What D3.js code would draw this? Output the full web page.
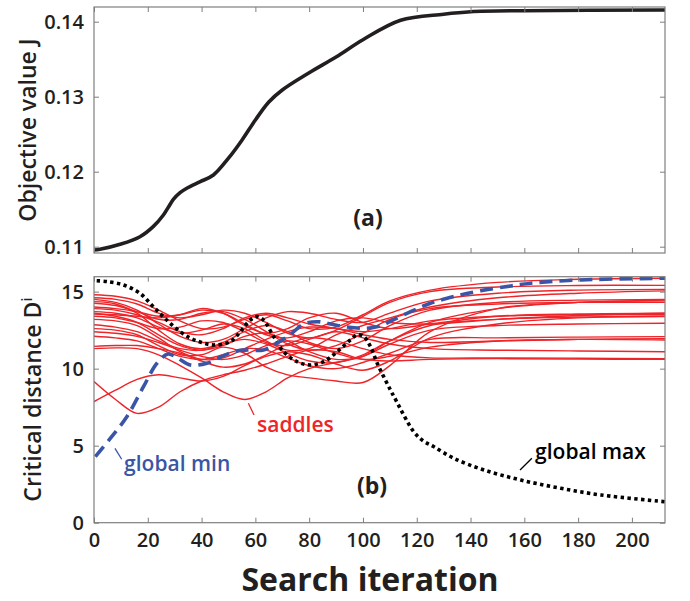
<!DOCTYPE html>
<html>
<head>
<meta charset="utf-8">
<script src="https://cdn.jsdelivr.net/npm/d3@7"></script>
<style>
  body { margin: 0; background: #fff; }
  text { font-family: "Open Sans", sans-serif; fill: #231f20; }
</style>
</head>
<body>
<svg id="chart"></svg>
<script>
// ---- data ----
// panel (a): objective value per iteration
var iterJ = [0, 2.2, 9.7, 17.1, 22, 25.8, 27.7, 29.5, 32, 34.5, 39.5, 44.4, 50, 55, 60, 65, 70, 80, 90, 100, 114, 130, 140, 160, 212.3];
var valJ  = [0.10956, 0.10965, 0.11032, 0.11133, 0.11267, 0.11423, 0.1153, 0.1163, 0.1172, 0.11779, 0.11867, 0.11956, 0.1218, 0.1242, 0.1269, 0.1293, 0.1309, 0.1332, 0.1353, 0.1376, 0.1402, 0.1410, 0.14133, 0.14147, 0.14156];

// panel (b): global max (dotted)
var iterMax = [1, 5, 11, 17, 22, 27, 32, 36, 40, 44.4, 50.7, 54.4, 58.1, 60.6, 63, 66.8, 70.5, 75.5, 80.4, 85.4, 90.4, 95.3, 97.8, 100.3, 102.8, 105.3, 107.7, 110.2, 112.1, 118.9, 122.5, 126.4, 133.8, 145, 158.7, 173.6, 188.5, 212.3];
var distMax = [15.71, 15.65, 15.43, 14.9, 14.03, 13.16, 12.4, 11.97, 11.7, 11.54, 11.75, 12.4, 13.16, 13.38, 13.16, 12.08, 11.1, 10.45, 10.24, 10.45, 11.1, 11.86, 12.19, 12.08, 11.43, 10.35, 9.48, 8.62, 8.0, 5.9, 5.3, 4.93, 4.18, 3.42, 2.77, 2.23, 1.8, 1.36];

// panel (b): global min (dashed)
var iterMin = [0.5, 5.6, 12.2, 18.4, 23.4, 27.5, 31, 35.8, 42, 48.2, 53.1, 57, 63, 67.5, 72.5, 78, 83, 88, 94, 101, 107, 110.5, 117.7, 125.1, 133.8, 143.8, 155, 162.4, 181, 212.3];
var distMin = [4.29, 5.37, 6.88, 8.83, 10.35, 10.95, 10.7, 10.24, 10.35, 10.85, 11.15, 11.21, 11.21, 11.6, 12.15, 12.9, 13.05, 12.9, 12.7, 12.62, 12.8, 13.1, 13.7, 14.25, 14.68, 15.06, 15.37, 15.55, 15.76, 15.87];

// panel (b): saddle points, all sampled on the same iterations
var iterSaddle = [0, 8, 16, 24, 32, 40, 48, 56, 64, 72, 80, 90, 100, 110, 125, 150, 180, 212.3];
var saddles = [
  [14.8, 14.7, 14.4, 13.8, 13.1, 12.6, 12.7, 13.2, 13.5, 13.1, 12.6, 12.7, 13.5, 14.4, 15.1, 15.6, 15.8, 15.87],
  [14.6, 14.5, 14.2, 13.6, 13.3, 13.5, 13.8, 13.6, 13.0, 12.3, 12.0, 12.5, 13.4, 14.3, 15.0, 15.3, 15.4, 15.41],
  [14.5, 14.3, 13.8, 12.9, 12.1, 11.7, 11.9, 12.6, 13.3, 13.7, 13.6, 13.2, 13.0, 13.6, 14.4, 14.9, 15.1, 15.15],
  [14.35, 14.2, 13.6, 12.5, 11.6, 11.3, 11.7, 12.4, 12.8, 12.4, 11.7, 11.3, 11.8, 12.8, 13.8, 14.3, 14.45, 14.5],
  [14.25, 14.1, 13.7, 13.2, 13.2, 13.6, 13.7, 13.2, 12.4, 11.6, 11.2, 11.5, 12.3, 13.2, 13.9, 14.2, 14.3, 14.3],
  [14.0, 13.9, 13.7, 13.4, 13.5, 13.8, 13.6, 12.9, 12.2, 12.0, 12.4, 13.1, 13.3, 13.0, 12.9, 13.2, 13.45, 13.6],
  [13.9, 13.8, 13.5, 13.0, 12.4, 12.2, 12.6, 13.3, 13.6, 13.3, 12.9, 12.6, 12.2, 11.9, 11.7, 11.8, 11.9, 11.95],
  [13.7, 13.6, 13.3, 12.7, 12.3, 12.5, 12.9, 12.6, 11.8, 11.2, 11.3, 12.2, 12.8, 13.3, 14.0, 14.6, 14.9, 15.05],
  [13.6, 13.4, 13.0, 12.2, 11.5, 11.2, 11.5, 12.1, 12.3, 11.8, 11.1, 10.6, 10.8, 11.6, 12.5, 12.8, 12.9, 12.95],
  [13.4, 13.3, 13.0, 12.6, 12.7, 13.1, 13.0, 12.4, 11.7, 11.5, 11.9, 12.4, 12.0, 11.6, 11.3, 11.2, 11.15, 11.1],
  [13.2, 13.1, 12.8, 12.0, 11.1, 10.6, 10.7, 11.3, 11.9, 12.4, 12.7, 12.6, 12.4, 12.6, 13.1, 13.4, 13.5, 13.5],
  [12.85, 12.7, 12.4, 11.8, 11.3, 11.2, 11.6, 11.9, 11.6, 11.0, 10.5, 10.4, 10.9, 11.8, 12.8, 13.2, 13.35, 13.4],
  [12.4, 12.3, 12.1, 11.7, 11.2, 10.8, 10.6, 10.9, 11.5, 11.8, 11.6, 11.0, 10.6, 10.8, 11.4, 11.8, 11.9, 11.86],
  [12.1, 12.0, 11.8, 11.3, 10.8, 10.6, 10.9, 11.3, 11.2, 10.7, 10.2, 10.0, 10.4, 11.0, 11.9, 12.0, 12.05, 12.08],
  [11.45, 11.5, 11.5, 11.3, 11.0, 10.5, 10.1, 10.3, 10.9, 11.6, 12.0, 11.8, 11.3, 10.9, 10.7, 10.7, 10.68, 10.65],
  [11.3, 11.35, 11.3, 10.9, 10.2, 9.4, 8.5, 8.0, 8.5, 9.4, 10.0, 10.4, 10.8, 11.8, 13.0, 13.9, 14.3, 14.45],
  [9.16, 8.0, 7.1, 7.5, 8.5, 9.2, 9.6, 9.9, 10.3, 10.8, 11.2, 11.1, 10.6, 10.5, 10.6, 10.65, 10.62, 10.6],
  [7.86, 8.6, 9.3, 9.6, 9.4, 9.2, 9.5, 10.2, 10.8, 11.1, 10.9, 10.3, 9.9, 10.5, 12.0, 12.9, 13.3, 13.38],
  [13.55, 13.5, 13.4, 13.3, 13.5, 13.9, 13.6, 12.8, 12.3, 12.6, 13.3, 13.6, 13.0, 12.6, 12.9, 13.4, 13.55, 13.6],
  [12.6, 12.5, 12.2, 11.5, 10.9, 10.9, 11.4, 11.0, 10.1, 9.6, 9.4, 9.2, 9.1, 10.2, 12.4, 13.9, 14.3, 14.4]
];

var xTicks = [0, 20, 40, 60, 80, 100, 120, 140, 160, 180, 200];
var jTicks = [0.11, 0.12, 0.13, 0.14];
var dTicks = [0, 5, 10, 15];

// ---- layout ----
var width = 690, height = 601;
var left = 94, right = 665;
var topA = 7, botA = 253;
var topB = 276.7, botB = 522.7;

var svg = d3.select('#chart')
    .attr('width', width)
    .attr('height', height);

var x = d3.scaleLinear().domain([0, 212.3]).range([left, right]);
var yA = d3.scaleLinear().domain([0.10916, 0.14196]).range([botA, topA]);
var yB = d3.scaleLinear().domain([0, 15.97]).range([botB, topB]);

var frameColor = '#7f7f7f';

// draws the box, inward ticks on all 4 sides
function drawFrame(y, yt, fmt, yTop, yBot, showX) {
    var g = svg.append('g');

    g.append('g')
        .attr('transform', 'translate(0,' + yBot + ')')
        .call(d3.axisBottom(x).tickValues(xTicks).tickSizeInner(-5).tickSizeOuter(0).tickPadding(10)
            .tickFormat(showX ? d3.format('d') : ''));
    g.append('g')
        .attr('transform', 'translate(0,' + yTop + ')')
        .call(d3.axisTop(x).tickValues(xTicks).tickSizeInner(-5).tickSizeOuter(0).tickFormat(''));
    g.append('g')
        .attr('transform', 'translate(' + left + ',0)')
        .call(d3.axisLeft(y).tickValues(yt).tickSizeInner(-5).tickSizeOuter(0).tickPadding(10).tickFormat(fmt));
    g.append('g')
        .attr('transform', 'translate(' + right + ',0)')
        .call(d3.axisRight(y).tickValues(yt).tickSizeInner(-5).tickSizeOuter(0).tickFormat(''));

    g.selectAll('.domain').remove();
    g.selectAll('.tick line').attr('stroke', frameColor).attr('stroke-width', 1);
    g.selectAll('.tick text')
        .attr('fill', '#231f20')
        .style('font-family', '"Open Sans", sans-serif')
        .style('font-weight', 600)
        .style('font-size', '20px');

    g.append('rect')
        .attr('x', left).attr('y', yTop)
        .attr('width', right - left).attr('height', yBot - yTop)
        .attr('fill', 'none')
        .attr('stroke', frameColor)
        .attr('stroke-width', 1.2);
    return g;
}

// clip paths
var defs = svg.append('defs');
defs.append('clipPath').attr('id', 'clipA').append('rect')
    .attr('x', left).attr('y', topA).attr('width', right - left).attr('height', botA - topA);
defs.append('clipPath').attr('id', 'clipB').append('rect')
    .attr('x', left).attr('y', topB).attr('width', right - left).attr('height', botB - topB);

// ---- panel (a) ----
var lineA = d3.line()
    .x(function(d) { return x(d[0]); })
    .y(function(d) { return yA(d[1]); })
    .curve(d3.curveCatmullRom.alpha(0.5));

svg.append('g').attr('clip-path', 'url(#clipA)')
    .append('path')
    .datum(d3.zip(iterJ, valJ))
    .attr('d', lineA)
    .attr('fill', 'none')
    .attr('stroke', '#231f20')
    .attr('stroke-width', 3.6);

drawFrame(yA, jTicks, d3.format('.2f'), topA, botA, false);

// ---- panel (b) ----
var lineB = d3.line()
    .x(function(d) { return x(d[0]); })
    .y(function(d) { return yB(d[1]); })
    .curve(d3.curveCatmullRom.alpha(0.5));

var gB = svg.append('g').attr('clip-path', 'url(#clipB)');

gB.selectAll('.saddle')
    .data(saddles)
    .enter()
    .append('path')
    .attr('class', 'saddle')
    .attr('d', function(s) { return lineB(d3.zip(iterSaddle, s)); })
    .attr('fill', 'none')
    .attr('stroke', '#ee2429')
    .attr('stroke-width', 1.4);

gB.append('path')
    .datum(d3.zip(iterMax, distMax))
    .attr('d', lineB)
    .attr('fill', 'none')
    .attr('stroke', '#000')
    .attr('stroke-width', 3.6)
    .attr('stroke-dasharray', '3.4,3.4');

gB.append('path')
    .datum(d3.zip(iterMin, distMin))
    .attr('d', lineB)
    .attr('fill', 'none')
    .attr('stroke', '#3a55a6')
    .attr('stroke-width', 3.6)
    .attr('stroke-dasharray', '13,7');

drawFrame(yB, dTicks, d3.format('d'), topB, botB, true);

// ---- annotations (data coordinates) ----
function pointer(x1, v1, x2, v2, color) {
    svg.append('line')
        .attr('x1', x(x1)).attr('y1', yB(v1))
        .attr('x2', x(x2)).attr('y2', yB(v2))
        .attr('stroke', color)
        .attr('stroke-width', 1.3);
}
function label(t, xv, yv, color, size, weight, anchor) {
    return svg.append('text')
        .attr('x', x(xv)).attr('y', yv)
        .attr('text-anchor', anchor || 'start')
        .style('fill', color)
        .style('font-size', size + 'px')
        .style('font-weight', weight)
        .text(t);
}

pointer(57.4, 7.75, 59.5, 6.99, '#ee2429');
label('saddles', 60.6, yB(5.89), '#ee2429', 21, 600);

pointer(7.8, 4.83, 10.3, 4.12, '#3a55a6');
label('global min', 11.2, yB(3.36), '#3a55a6', 21, 600);

pointer(158.4, 3.42, 162.8, 4.18, '#000');
label('global max', 164.0, yB(4.14), '#000', 21, 600);

label('(a)', 101.9, yA(0.11276), '#231f20', 23, 700, 'middle');
label('(b)', 103.4, yB(1.86), '#231f20', 23, 700, 'middle');

// ---- axis titles ----
svg.append('text')
    .attr('transform', 'translate(35.5,' + ((topA + botA) / 2) + ') rotate(-90)')
    .attr('text-anchor', 'middle')
    .style('font-size', '23px')
    .style('font-weight', 600)
    .text('Objective value J');

var tB = svg.append('text')
    .attr('transform', 'translate(41,' + ((topB + botB) / 2) + ') rotate(-90)')
    .attr('text-anchor', 'middle')
    .style('font-size', '23px')
    .style('font-weight', 600);
tB.append('tspan').text('Critical distance D');
tB.append('tspan').attr('dy', -9).style('font-size', '14px').text('i');

svg.append('text')
    .attr('x', 370)
    .attr('y', 591)
    .attr('text-anchor', 'middle')
    .style('font-size', '32px')
    .style('font-weight', 700)
    .text('Search iteration');
</script>
</body>
</html>
